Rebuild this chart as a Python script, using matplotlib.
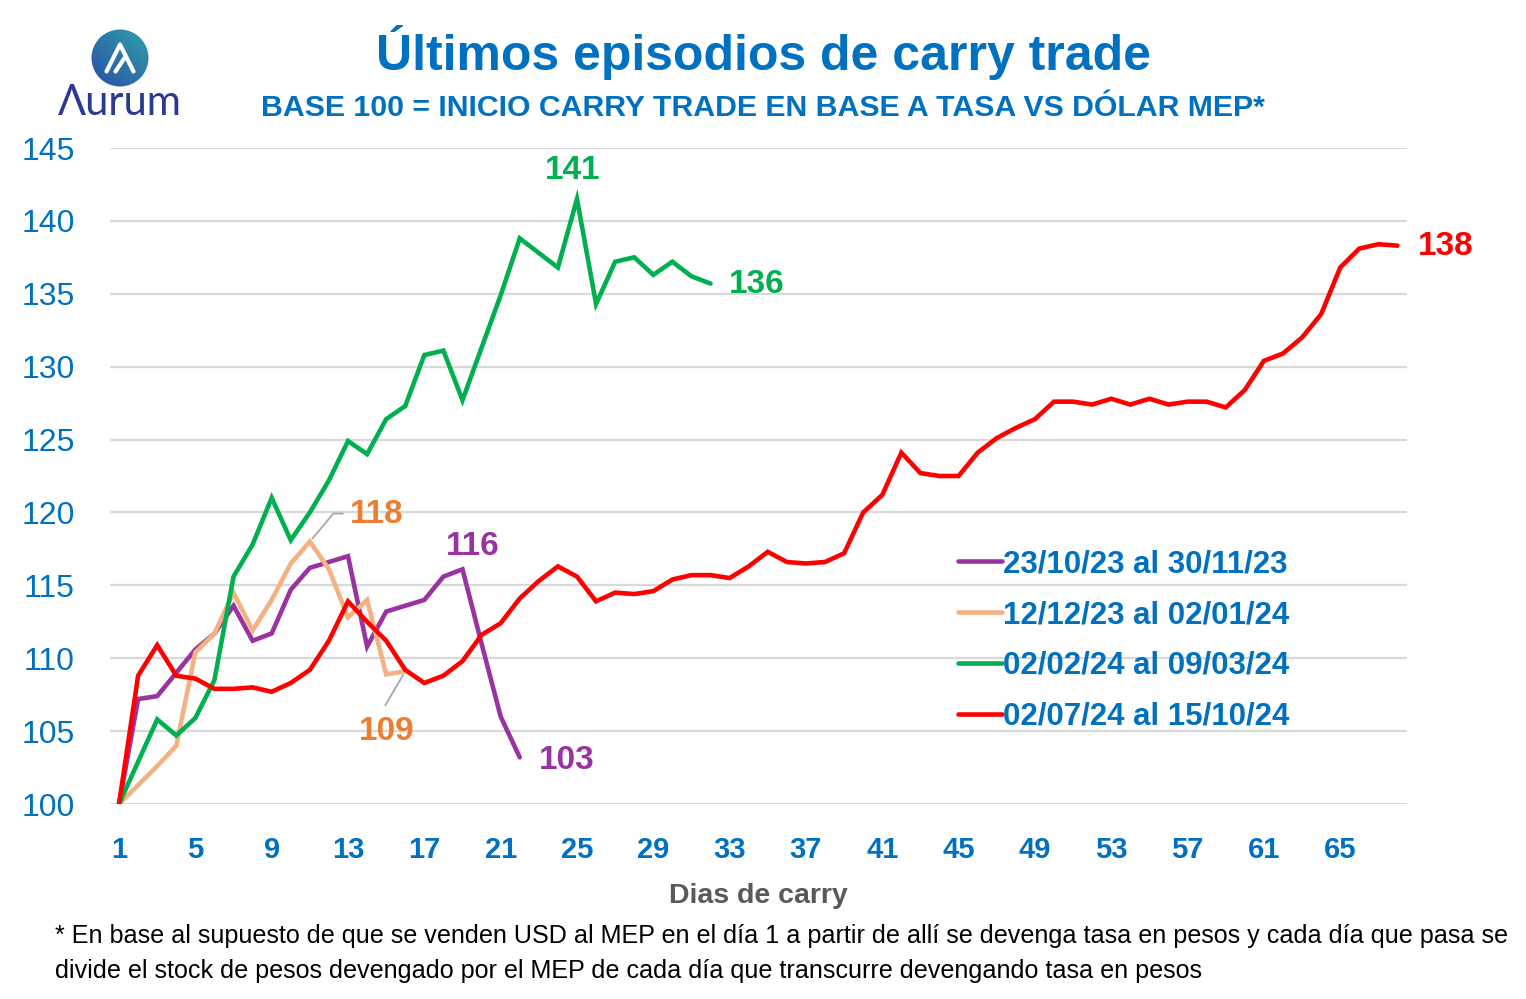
import matplotlib
matplotlib.use("Agg")
import matplotlib.pyplot as plt
import numpy as np
from matplotlib.patches import Circle

# series values, base 100 at day 1
oct23 = [100, 107.2, 107.4, 109.0, 110.6, 111.7, 113.6, 111.2, 111.7, 114.7,
         116.2, 116.6, 117.0, 110.8, 113.2, 113.6, 114.0, 115.6, 116.1, 111.0,
         106.0, 103.2]
dec23 = [100, 101.3, 102.6, 104.0, 110.4, 111.7, 114.5, 111.9, 114.0, 116.5,
         118.0, 116.1, 112.8, 114.0, 108.9, 109.1]
feb24 = [100, 102.9, 105.8, 104.7, 105.9, 108.5, 115.6, 117.8, 121.0, 118.1,
         120.0, 122.2, 124.9, 124.0, 126.4, 127.3, 130.8, 131.1, 127.7, 131.3,
         134.9, 138.8, 137.8, 136.8, 141.5, 134.3, 137.2, 137.5, 136.3, 137.2,
         136.2, 135.7]
jul24 = [100, 108.8, 110.9, 108.8, 108.6, 107.9, 107.9, 108.0, 107.7, 108.3,
         109.2, 111.2, 113.9, 112.5, 111.2, 109.2, 108.3, 108.8, 109.8, 111.6,
         112.4, 114.1, 115.3, 116.3, 115.6, 113.9, 114.5, 114.4, 114.6, 115.4,
         115.7, 115.7, 115.5, 116.3, 117.3, 116.6, 116.5, 116.6, 117.2, 120.0,
         121.2, 124.1, 122.7, 122.5, 122.5, 124.1, 125.1, 125.8, 126.4, 127.6,
         127.6, 127.4, 127.8, 127.4, 127.8, 127.4, 127.6, 127.6, 127.2, 128.4,
         130.4, 130.9, 132.0, 133.6, 136.8, 138.1, 138.4, 138.3]

labels = ["23/10/23 al 30/11/23", "12/12/23 al 02/01/24",
          "02/02/24 al 09/03/24", "02/07/24 al 15/10/24"]
colors = ["#9933A0", "#F4B183", "#00B050", "#FF0000"]
x_ticks = list(range(1, 66, 4))
y_ticks = list(range(100, 146, 5))

BLUE = "#0070C0"
SANS = ["Liberation Sans", "DejaVu Sans"]

fig = plt.figure(figsize=(15.26, 9.99), dpi=100)
ax = fig.add_axes([109.5 / 1526, 1 - 804 / 999, (1407 - 109.5) / 1526, (804 - 148) / 999])

series = [oct23, dec23, feb24, jul24]
for vals, lab, col in zip(series, labels, colors):
    days = np.arange(1, len(vals) + 1)
    ax.plot(days, vals, color=col, lw=3.3, label=lab, solid_joinstyle="miter",
            solid_capstyle="round", zorder=3)

ax.set_xlim(0.5, 68.5)
ax.set_ylim(100, 145)
ax.set_xticks(x_ticks)
ax.set_yticks(y_ticks)
ax.grid(axis="y", color="#D9D9D9", lw=1.6, zorder=0)
ax.set_axisbelow(True)
for s in ax.spines.values():
    s.set_visible(False)
ax.tick_params(axis="both", length=0)
ax.tick_params(axis="y", pad=25, labelsize=23, labelcolor=BLUE)
ax.tick_params(axis="x", pad=23, labelsize=21, labelcolor=BLUE)
for t in ax.get_xticklabels():
    t.set_fontweight("bold")
    t.set_family(SANS)
for t in ax.get_yticklabels():
    t.set_family(SANS)
ax.set_xlabel("Dias de carry", fontsize=20.5, fontweight="bold", color="#595959",
              family=SANS, labelpad=14)

# data labels
def tag(x, y, txt, col, dx, dy, ha="center"):
    ax.annotate(txt, (x, y), xytext=(dx, dy), textcoords="offset pixels",
                ha=ha, va="center", fontsize=24, fontweight="bold", color=col,
                family=SANS, zorder=5)

tag(25, feb24[24], "141", "#00B050", -4, 29)
tag(len(feb24), feb24[-1], "136", "#00B050", 18, -1, ha="left")
tag(len(jul24), jul24[-1], "138", "#FF0000", 20, -1, ha="left")
tag(len(oct23), oct23[-1], "103", "#9933A0", 19, -3, ha="left")
tag(19, oct23[18], "116", "#9933A0", 10, 23)
tag(11, dec23[10], "118", "#ED7D31", 40, 27, ha="left")
tag(len(dec23), dec23[-1], "109", "#ED7D31", -19, -60)

# leader lines for peach labels
ax.annotate("", (11, dec23[10]), xytext=(33, 28), textcoords="offset pixels",
            arrowprops=dict(arrowstyle="-", color="#A6A6A6", lw=1.3,
                            connectionstyle="angle,angleA=0,angleB=50,rad=0",
                            shrinkA=0, shrinkB=3))
ax.annotate("", (len(dec23), dec23[-1]), xytext=(-20, -34), textcoords="offset pixels",
            arrowprops=dict(arrowstyle="-", color="#A6A6A6", lw=1.3, shrinkA=0, shrinkB=3))

leg = ax.legend(loc="upper left", bbox_to_anchor=((930 - 109.5) / (1407 - 109.5), (804 - 521) / 656),
                frameon=False, handlelength=1.4, handletextpad=0.05, labelspacing=0.67,
                prop=dict(family=SANS, weight="bold", size=22.5))
for t in leg.get_texts():
    t.set_color(BLUE)

# titles
fig.text(763 / 1526, 1 - 53 / 999, "Últimos episodios de carry trade", ha="center", va="center",
         fontsize=36, fontweight="bold", color=BLUE, family=SANS)
fig.text(763 / 1526, 1 - 108 / 999, "BASE 100 = INICIO CARRY TRADE EN BASE A TASA VS DÓLAR MEP*",
         ha="center", va="center", fontsize=21.8, fontweight="bold", color=BLUE, family=SANS)

# footnote
foot = ["* En base al supuesto de que se venden USD al MEP en el día 1 a partir de allí se devenga "
        "tasa en pesos y cada día que pasa se",
        "divide el stock de pesos devengado por el MEP de cada día que transcurre devengando tasa en pesos"]
for i, line in enumerate(foot):
    fig.text(55 / 1526, 1 - (936 + 35 * i) / 999, line, ha="left", va="center",
             fontsize=18.05, color="black", family=SANS)

# logo
lax = fig.add_axes([90 / 1526, 1 - 88 / 999, 60 / 1526, 60 / 999])
lax.set_xlim(-1, 1)
lax.set_ylim(-1, 1)
lax.axis("off")
gx, gy = np.meshgrid(np.linspace(0, 1, 100), np.linspace(0, 1, 100))
grad = gx * 0.5 + gy * 0.5
img = lax.imshow(grad, extent=(-1, 1, -1, 1), origin="lower",
                 cmap=matplotlib.colors.LinearSegmentedColormap.from_list("lg", ["#2B4BA8", "#2FA3A8"]))
circ = Circle((0, 0), 0.95, transform=lax.transData)
img.set_clip_path(circ)
lax.plot([-0.45, 0.0, 0.45], [-0.45, 0.45, -0.45], color="white", lw=3, solid_capstyle="round")
lax.plot([-0.15, 0.15], [-0.45, 0.0], color="white", lw=3, solid_capstyle="round")
fig.text(120 / 1526, 1 - 103 / 999, "Λurum", ha="center", va="center", fontsize=30,
         color="#2B3990", family=["Lato", "DejaVu Sans"])

fig.savefig("out.png", dpi=100)
